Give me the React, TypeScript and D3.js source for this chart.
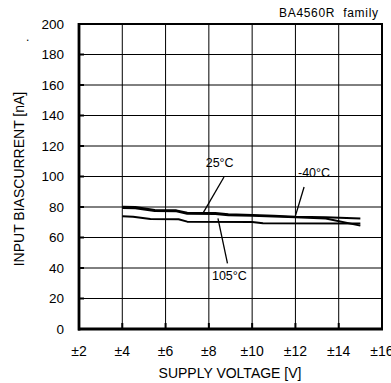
import React from "react";
import { scaleLinear, line } from "d3";

// supply voltage (±V) and input bias current (nA)
const voltsM40 = [4, 4.6, 5.5, 6.5, 7.0, 8.3, 8.9, 10, 11, 12, 13.4, 15];
const biasM40 = [80.2, 80.0, 78.0, 77.8, 76.2, 76.0, 75.2, 74.8, 74.2, 73.6, 73.3, 72.4];

const volts25 = [4, 4.6, 5.5, 6.5, 7.0, 8.3, 8.9, 10, 11, 12, 13.4, 15];
const bias25 = [79.3, 79.1, 77.4, 77.2, 75.6, 75.4, 74.6, 74.3, 73.8, 73.2, 72.5, 67.8];

const volts105 = [4, 4.5, 5.3, 6.6, 7.0, 10.0, 10.5, 15];
const bias105 = [74.0, 73.6, 72.2, 72.0, 70.4, 70.2, 69.3, 69.1];

const xTicks = [2, 4, 6, 8, 10, 12, 14, 16];
const xTickLabels = ["±2", "±4", "±6", "±8", "±10", "±12", "±14", "±16"];
const yTicks = [0, 20, 40, 60, 80, 100, 120, 140, 160, 180, 200];

// annotation: label position and leader line in data units
const notes = [
  { text: "25°C", x: 8.5, y: 106.2, from: [8.7, 99.7], to: [7.75, 76.5] },
  { text: "-40°C", x: 12.86, y: 99.7, from: [12.4, 93.1], to: [12.0, 74.2] },
  { text: "105°C", x: 8.95, y: 32.1, from: [8.42, 72.6], to: [8.86, 43.1] },
];

const W = 391;
const H = 383;
const left = 79;
const right = 382;
const top = 24;
const bottom = 329;
const font = "'Liberation Sans', Arial, sans-serif";

export default function App() {
  const x = scaleLinear().domain([2, 16]).range([left, right]);
  const y = scaleLinear().domain([0, 200]).range([bottom, top]);

  // join voltage / current arrays into a path
  const curve = (vs: number[], is: number[]) =>
    line<[number, number]>()
      .x((d) => x(d[0]))
      .y((d) => y(d[1]))(vs.map((v, i) => [v, is[i]] as [number, number])) ?? "";

  return (
    <svg
      width={W}
      height={H}
      style={{ position: "absolute", left: 0, top: 0, background: "#fff" }}
      fontFamily={font}
    >
      <rect width={W} height={H} fill="#fff" />

      {/* grid */}
      <g stroke="#000" strokeWidth={1}>
        {xTicks.slice(1, -1).map((t) => (
          <line key={"vx" + t} x1={x(t)} x2={x(t)} y1={top} y2={bottom} />
        ))}
        {yTicks.slice(1, -1).map((t) => (
          <line key={"hy" + t} x1={left} x2={right} y1={y(t)} y2={y(t)} />
        ))}
      </g>

      {/* tick marks */}
      <g stroke="#000" strokeWidth={2}>
        {xTicks.slice(1, -1).map((t) => (
          <line key={"tx" + t} x1={x(t)} x2={x(t)} y1={bottom} y2={bottom - 6} />
        ))}
        {yTicks.slice(1, -1).map((t) => (
          <line key={"ty" + t} x1={left} x2={left + 5} y1={y(t)} y2={y(t)} />
        ))}
      </g>

      {/* frame */}
      <rect
        x={left}
        y={top}
        width={right - left}
        height={bottom - top}
        fill="none"
        stroke="#000"
        strokeWidth={2}
      />
      <line x1={left} x2={left} y1={top - 1} y2={bottom + 1.5} stroke="#000" strokeWidth={2.8} />
      <line x1={left - 1} x2={right + 1} y1={bottom} y2={bottom} stroke="#000" strokeWidth={2.8} />

      {/* curves */}
      <g fill="none" stroke="#000" strokeWidth={2} strokeLinejoin="round">
        <path d={curve(voltsM40, biasM40)} />
        <path d={curve(volts25, bias25)} />
        <path d={curve(volts105, bias105)} />
      </g>

      {/* annotations */}
      {notes.map((n) => (
        <g key={n.text}>
          <line
            x1={x(n.from[0])}
            y1={y(n.from[1])}
            x2={x(n.to[0])}
            y2={y(n.to[1])}
            stroke="#000"
            strokeWidth={1.3}
          />
          <text x={x(n.x)} y={y(n.y)} fontSize={12.5} textAnchor="middle">
            {n.text}
          </text>
        </g>
      ))}

      {/* y tick labels */}
      {yTicks.map((t) => (
        <text key={"ly" + t} x={64} y={y(t) + 4.7} fontSize={13.5} textAnchor="end">
          {t}
        </text>
      ))}

      {/* x tick labels */}
      {xTicks.map((t, i) => (
        <text key={"lx" + t} x={x(t)} y={356} fontSize={14} textAnchor="middle">
          {xTickLabels[i]}
        </text>
      ))}

      <text x={(left + right) / 2 - 0.5} y={378} fontSize={14} textAnchor="middle">
        SUPPLY VOLTAGE [V]
      </text>
      <text transform="translate(24,179) rotate(-90)" fontSize={14} textAnchor="middle">
        INPUT BIASCURRENT [nA]
      </text>
      <text x={26} y={41} fontSize={12}>
        .
      </text>
      <text x={378} y={17} fontSize={12} textAnchor="end" textLength={99}>
        {"BA4560R\u00A0 family"}
      </text>
    </svg>
  );
}
